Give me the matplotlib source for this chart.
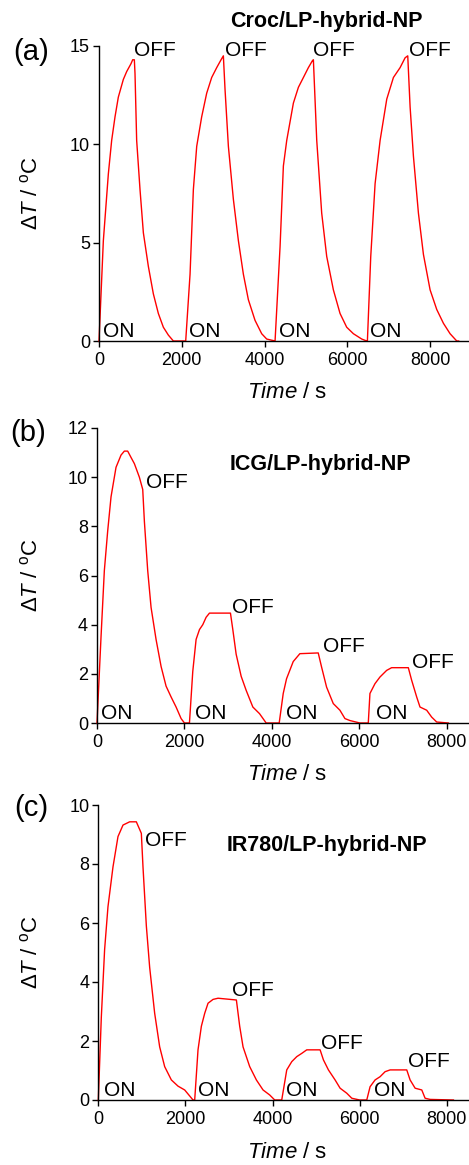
import matplotlib
matplotlib.use("Agg")
import matplotlib.pyplot as plt

plt.rcParams['font.family'] = ['Liberation Sans', 'DejaVu Sans']
plt.rcParams['mathtext.fontset'] = 'custom'
plt.rcParams['mathtext.rm'] = 'Liberation Sans'
plt.rcParams['mathtext.it'] = 'Liberation Sans:italic'
plt.rcParams['mathtext.bf'] = 'Liberation Sans:bold'

# ---------------- data ----------------
titles = ["Croc/LP-hybrid-NP", "ICG/LP-hybrid-NP", "IR780/LP-hybrid-NP"]
panel_tags = ["(a)", "(b)", "(c)"]

t_a = [0, 105, 226, 306, 387, 467, 588, 669, 773, 814, 854,
       870, 910, 991, 1072, 1192, 1313, 1434, 1555, 1676, 1797, 2095,
       2200, 2280, 2361, 2481, 2602, 2723, 2844, 2949, 3005,
       3045, 3126, 3247, 3368, 3488, 3609, 3770, 3931, 4052, 4254,
       4375, 4455, 4536, 4697, 4818, 4939, 5059, 5156, 5180,
       5261, 5381, 5502, 5663, 5824, 5985, 6147, 6348, 6469, 6485,
       6566, 6671, 6792, 6953, 7114, 7275, 7396, 7460,
       7517, 7597, 7718, 7839, 8000, 8161, 8322, 8483, 8644, 8690]
dT_a = [0, 5.1, 8.5, 10.2, 11.4, 12.4, 13.3, 13.7, 14.1, 14.3, 14.3,
        13.6, 10.2, 7.7, 5.5, 3.8, 2.4, 1.4, 0.7, 0.3, 0, 0,
        3.4, 7.7, 9.9, 11.4, 12.6, 13.4, 13.9, 14.3, 14.5,
        12.8, 9.9, 7.2, 5.1, 3.4, 2.1, 1.05, 0.37, 0.1, 0,
        4.8, 8.9, 10.2, 12.1, 12.9, 13.4, 13.9, 14.25, 14.3,
        10.2, 6.5, 4.3, 2.6, 1.4, 0.7, 0.37, 0.1, 0, 0,
        4.3, 8.0, 10.2, 12.3, 13.4, 13.9, 14.4, 14.5,
        11.9, 9.4, 6.5, 4.4, 2.6, 1.6, 0.9, 0.37, 0, 0]

t_b = [0, 92, 168, 244, 321, 435, 550, 626, 702, 779, 855, 969, 1046,
       1084, 1160, 1237, 1351, 1466, 1580, 1695, 1809, 1924, 2000, 2115,
       2191, 2267, 2344, 2420, 2496, 2573, 2725, 3053,
       3107, 3183, 3298, 3412, 3565, 3718, 3870, 4168,
       4260, 4336, 4489, 4641, 5061,
       5137, 5252, 5405, 5557, 5672, 5786, 6015, 6206,
       6244, 6359, 6473, 6626, 6740, 7122,
       7198, 7313, 7389, 7542, 7656, 7771, 8038]
dT_b = [0, 3.5, 6.2, 7.8, 9.2, 10.4, 10.9, 11.06, 11.06, 10.8, 10.55, 10.0, 9.5,
        8.2, 6.2, 4.7, 3.4, 2.3, 1.5, 1.06, 0.65, 0.18, 0, 0,
        2.1, 3.4, 3.8, 4.0, 4.3, 4.47, 4.47, 4.47,
        3.8, 2.8, 1.9, 1.33, 0.65, 0.38, 0, 0,
        1.2, 1.8, 2.5, 2.82, 2.85,
        2.28, 1.46, 0.79, 0.52, 0.18, 0.1, 0, 0,
        1.2, 1.6, 1.87, 2.14, 2.25, 2.25,
        1.74, 1.06, 0.65, 0.52, 0.24, 0.04, 0]

t_c = [0, 69, 145, 222, 337, 452, 567, 720, 873, 988,
       1026, 1103, 1179, 1294, 1409, 1524, 1677, 1830, 1983, 2175, 2213,
       2289, 2366, 2443, 2519, 2634, 2749, 3170,
       3246, 3323, 3476, 3629, 3782, 3935, 4050, 4211,
       4326, 4441, 4556, 4670, 4785, 5092,
       5168, 5283, 5436, 5551, 5704, 5819, 6000, 6163,
       6239, 6354, 6469, 6584, 6699, 7081,
       7158, 7273, 7426, 7502, 7617, 8153]
dT_c = [0, 2.8, 5.1, 6.55, 7.9, 8.93, 9.32, 9.43, 9.43, 9.04,
        7.9, 5.9, 4.5, 2.94, 1.8, 1.13, 0.68, 0.47, 0.34, 0, 0,
        1.7, 2.5, 2.94, 3.28, 3.41, 3.45, 3.39,
        2.5, 1.8, 1.13, 0.68, 0.34, 0.17, 0, 0,
        1.02, 1.3, 1.47, 1.58, 1.7, 1.7,
        1.36, 1.02, 0.68, 0.4, 0.23, 0.06, 0, 0,
        0.45, 0.68, 0.79, 0.96, 1.02, 1.02,
        0.68, 0.4, 0.34, 0.06, 0.02, 0]

# ON / OFF annotation anchors (time, value)
on_t_a = [89, 2183, 4359, 6551]
off_a = [(854, 14.3), (3045, 14.3), (5181, 14.3), (7501, 14.3)]
on_t_b = [99, 2237, 4313, 6382]
off_b = [(1130, 9.4), (3099, 4.31), (5176, 2.71), (7198, 2.07)]
on_t_c = [130, 2297, 4303, 6340]
off_c = [(1080, 8.47), (3078, 3.39), (5106, 1.6), (7112, 0.98)]

y_max = [15, 12, 10]
y_ticks = [[0, 5, 10, 15], [0, 2, 4, 6, 8, 10, 12], [0, 2, 4, 6, 8, 10]]
x_ticks = [0, 2000, 4000, 6000, 8000]
x_max = [8940, 8510, 8510]

# ---------------- layout ----------------
W, H = 469, 1165
fig = plt.figure(figsize=(W / 100, H / 100), dpi=100)

# axes rectangles in pixels: left, top, bottom (right = figure edge)
rects = [(99, 46, 341), (97, 428, 723), (98.3, 805, 1100)]

series = [(t_a, dT_a, on_t_a, off_a), (t_b, dT_b, on_t_b, off_b), (t_c, dT_c, on_t_c, off_c)]
title_pos = [None, (5115, 10.5), (5250, 8.64)]

for i, ((l, top, bot), (t, d, on_t, offs)) in enumerate(zip(rects, series)):
    ax = fig.add_axes([l / W, (H - bot) / H, (W - l) / W, (bot - top) / H])
    ax.plot(t, d, color='#ff0000', lw=1.0, clip_on=False)
    ax.set_xlim(0, x_max[i])
    ax.set_ylim(0, y_max[i])
    ax.set_xticks(x_ticks)
    ax.set_yticks(y_ticks[i])
    for s in ['top', 'right']:
        ax.spines[s].set_visible(False)
    for s in ['left', 'bottom']:
        ax.spines[s].set_linewidth(1.0)
    ax.tick_params(direction='out', length=4, width=1.0, labelsize=13, pad=2.5)
    ax.tick_params(axis='x', pad=4)

    ax.set_xlabel(r'$\mathit{Time}$ / s', fontsize=16)
    ax.xaxis.set_label_coords((287 - l) / (W - l), -52 / (bot - top))
    ax.xaxis.label.set_verticalalignment('center')
    ax.set_ylabel(r'$\mathit{ΔT}$ / $^{\rm o}$C', fontsize=16)
    ax.yaxis.set_label_coords((31 - l) / (W - l), 0.5)
    ax.yaxis.label.set_verticalalignment('center')

    for x in on_t:
        ax.text(x, 0.0, "ON", fontsize=15, ha='left', va='bottom')
    for (x, y) in offs:
        ax.text(x, y, "OFF", fontsize=15, ha='left', va='bottom')

    if title_pos[i] is None:
        fig.text(326 / W, 1 - 22 / H, titles[i], fontsize=15.5, fontweight='bold',
                 ha='center', va='center')
    else:
        ax.text(title_pos[i][0], title_pos[i][1], titles[i], fontsize=15.5,
                fontweight='bold', ha='center', va='center')

tag_pos = [(31, 52), (28, 433), (31, 808)]
for tag, (x, y) in zip(panel_tags, tag_pos):
    fig.text(x / W, 1 - y / H, tag, fontsize=21, ha='center', va='center')

fig.savefig("out.png", dpi=100)
